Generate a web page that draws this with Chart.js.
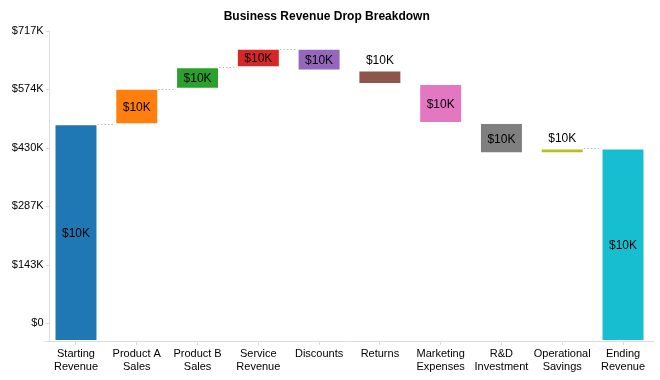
<!DOCTYPE html>
<html>
<head>
<meta charset="utf-8">
<script src="https://cdn.jsdelivr.net/npm/chart.js@4.4.1/dist/chart.umd.min.js"></script>
<style>
  html, body { margin: 0; padding: 0; background: #fff; }
  #wrap { width: 660px; height: 380px; position: relative; }
</style>
</head>
<body>
<div id="wrap"><canvas id="c" width="660" height="380"></canvas></div>
<script>
// ---- Data ----
const categories = [
  ["Starting", "Revenue"], ["Product A", "Sales"], ["Product B", "Sales"],
  ["Service", "Revenue"], "Discounts", "Returns", ["Marketing", "Expenses"],
  ["R&D", "Investment"], ["Operational", "Savings"], ["Ending", "Revenue"]
];
const startingRevenue = 487000;
const changes = [87000, 53000, 45000, -53000, -33000, -96000, -74000, 12000];
const barLabels = ["$10K", "$10K", "$10K", "$10K", "$10K", "$10K", "$10K", "$10K", "$10K", "$10K"];
const barColors = ["#1f77b4", "#ff7f0e", "#2ca02c", "#d62728", "#9467bd",
                   "#8c564b", "#e377c2", "#7f7f7f", "#bcbd22", "#17becf"];
const yTicks = [0, 143400, 286800, 430200, 573600, 717000];
const yMin = -44000;
const yMax = 717000;
const chartTitle = "Business Revenue Drop Breakdown";

// ---- Build floating-bar ranges from the values ----
const ranges = [];
const kinds = [];
let running = startingRevenue;
ranges.push([yMin, startingRevenue]); kinds.push("total");
changes.forEach(c => {
  const next = running + c;
  ranges.push([running, next]);
  kinds.push(c >= 0 ? "up" : "down");
  running = next;
});
ranges.push([yMin, running]); kinds.push("total");

const FONT = "'Liberation Sans', Arial, Helvetica, sans-serif";

const axisPlugin = {
  id: 'axisPlugin',
  beforeDatasetsDraw(chart) {
    const {ctx, chartArea, scales} = chart;
    const y = scales.y;
    ctx.save();
    ctx.strokeStyle = '#dcdcdc';
    ctx.lineWidth = 1;
    const ax = Math.round(chartArea.left + 4) - 0.5;
    ctx.beginPath();
    ctx.moveTo(ax, chartArea.top);
    ctx.lineTo(ax, chartArea.bottom);
    ctx.stroke();
    yTicks.forEach(v => {
      const py = Math.round(y.getPixelForValue(v)) + 0.5;
      ctx.beginPath();
      ctx.moveTo(chartArea.left, py);
      ctx.lineTo(ax, py);
      ctx.stroke();
    });
    // connectors
    const meta = chart.getDatasetMeta(0);
    ctx.strokeStyle = '#b8b8b8';
    ctx.setLineDash([1.5, 2]);
    for (let i = 0; i < ranges.length - 1; i++) {
      if (kinds[i] === 'down') continue;
      const end = ranges[i][1];
      const py = Math.round(y.getPixelForValue(end)) + 0.5;
      const b0 = meta.data[i], b1 = meta.data[i + 1];
      ctx.beginPath();
      ctx.moveTo(b0.x + b0.width / 2, py);
      ctx.lineTo(b1.x - b1.width / 2, py);
      ctx.stroke();
    }
    ctx.restore();
  },
  afterDatasetsDraw(chart) {
    const {ctx, scales} = chart;
    const y = scales.y;
    const meta = chart.getDatasetMeta(0);
    ctx.save();
    ctx.font = '12px ' + FONT;
    ctx.fillStyle = '#000';
    ctx.textAlign = 'center';
    ctx.textBaseline = 'middle';
    ranges.forEach((r, i) => {
      const p0 = y.getPixelForValue(r[0]);
      const p1 = y.getPixelForValue(r[1]);
      const top = Math.min(p0, p1), bot = Math.max(p0, p1);
      const x = meta.data[i].x;
      if (bot - top >= 18) {
        ctx.fillText(barLabels[i], x, (top + bot) / 2 + 1);
      } else {
        ctx.fillText(barLabels[i], x, top - 9.5);
      }
    });
    ctx.restore();
  }
};

new Chart(document.getElementById('c'), {
  type: 'bar',
  data: {
    labels: categories,
    datasets: [{
      data: ranges,
      backgroundColor: barColors,
      borderColor: 'rgba(255,255,255,0.45)',
      borderWidth: 1,
      borderSkipped: false,
      categoryPercentage: 1.0,
      barPercentage: 0.707
    }]
  },
  options: {
    responsive: false,
    animation: false,
    devicePixelRatio: 1,
    layout: { padding: { left: 0, right: 6.6, top: 0, bottom: 0 } },
    plugins: {
      legend: { display: false },
      tooltip: { enabled: false },
      title: {
        display: true,
        text: chartTitle,
        color: '#000',
        font: { family: FONT, size: 12, weight: 'bold', lineHeight: 1.2 },
        padding: { top: 9.6, bottom: 6.5 }
      }
    },
    scales: {
      x: {
        grid: { display: true, drawOnChartArea: false, offset: false, tickLength: 4, color: '#dcdcdc' },
        border: { display: true, color: '#dcdcdc', width: 1 },
        ticks: { color: '#000', font: { family: FONT, size: 11, lineHeight: 1.15 }, padding: 3, maxRotation: 0, autoSkip: false },
        afterFit(s) { s.height = 39; }
      },
      y: {
        min: yMin,
        max: yMax,
        grid: { display: false, drawTicks: false, tickLength: 0 },
        border: { display: false },
        afterBuildTicks(s) { s.ticks = yTicks.map(v => ({ value: v })); },
        ticks: {
          color: '#000',
          padding: 2,
          font: { family: FONT, size: 11 },
          callback(v) { return v === 0 ? '$0' : '$' + Math.round(v / 1000) + 'K'; }
        },
        afterFit(s) { s.width = 45.6; }
      }
    }
  },
  plugins: [axisPlugin]
});
</script>
</body>
</html>
